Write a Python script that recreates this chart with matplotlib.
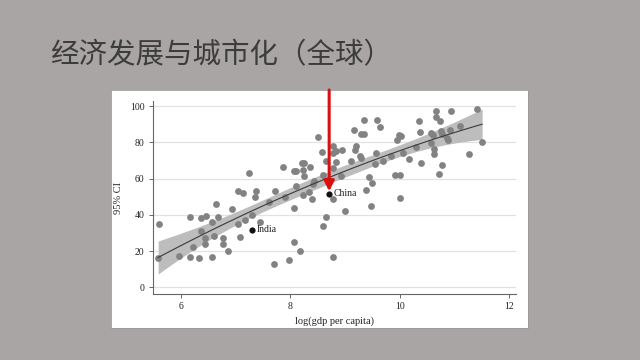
import numpy as np
import matplotlib
matplotlib.use("Agg")
import matplotlib.pyplot as plt

# log gdp per capita / urbanisation rate
log_gdp = [5.60, 5.58, 5.96, 6.16, 6.16, 6.32, 6.22, 6.36, 6.46, 6.36, 6.43, 6.44, 6.56, 6.63,
           6.67, 6.61, 6.57, 6.77, 6.76, 6.85, 6.94, 7.05, 7.13, 7.25, 7.05, 7.08, 7.17, 7.38,
           7.35, 7.29, 7.44, 7.72, 7.61, 7.70, 7.86, 7.97, 7.90,
           8.06, 8.18, 8.07, 8.21, 8.25, 8.06, 8.11, 8.36, 8.24, 8.25, 8.59, 8.65, 8.11, 8.41,
           8.35, 8.24, 8.40, 8.44, 8.51, 8.57, 8.78, 8.83, 8.78, 8.95, 8.83, 8.78, 8.92, 9.11,
           9.21, 9.18, 9.27, 9.30, 9.17, 9.29, 9.34, 9.35, 8.78, 8.78, 8.65, 8.60, 9.00, 9.38,
           9.44, 9.49, 9.47,
           9.58, 9.64, 9.57, 9.55, 9.70, 9.84, 9.95, 9.99, 10.03, 9.91, 10.00, 10.00, 10.07,
           10.18, 10.30, 10.35, 10.37, 10.40, 10.58, 10.61, 10.57, 10.63, 10.63, 10.67, 10.66,
           10.73, 10.75, 10.78, 10.86, 10.89, 10.92, 10.94, 11.10, 11.41, 11.51, 11.27, 10.77,
           10.72]
urban = [35, 16, 17.5, 39, 17, 16, 22, 38.5, 39.5, 31, 27, 24, 36, 46,
         39, 28.5, 16.5, 27, 24, 20, 43, 53, 52, 63, 35, 28, 37, 53,
         50, 40, 36, 53, 47, 13, 66.5, 15, 50,
         25, 20, 44, 68.8, 68.8, 64, 64, 66.6, 64.8, 61.7, 62, 69.9, 56, 57,
         52.8, 51, 49, 58.7, 83, 74.7, 78, 75.5, 74.2, 75.7, 69.2, 66, 61.7, 69.6,
         78, 75.7, 72.4, 71.4, 86.7, 84.7, 84.7, 92.6, 49, 17, 38.7, 34, 42, 53.8,
         60.8, 57.6, 45,
         92.6, 88.6, 74.2, 68, 69.8, 72.4, 81.5, 84.3, 83.4, 62, 62, 49.3, 74,
         70.9, 77.7, 91.7, 85.8, 68.7, 85.4, 84.3, 79.6, 76.4, 73.8, 97.6, 93.9,
         91.7, 86.5, 84.7, 82.5, 81.5, 87.1, 97.6, 88.9, 98.7, 80.1, 73.8, 67.7,
         62.8]

labelled = ["China", "India"]
labelled_x = [8.71, 7.30]
labelled_y = [51.7, 31.7]

x = np.array(log_gdp + labelled_x)
y = np.array(urban + labelled_y)

# quadratic fit with 95% CI of the mean (like Stata qfitci)
X = np.column_stack([np.ones_like(x), x, x ** 2])
beta, *_ = np.linalg.lstsq(X, y, rcond=None)
n = len(x)
resid = y - X @ beta
s2 = np.sum(resid ** 2) / (n - 3)
cov = s2 * np.linalg.inv(X.T @ X)
xs = np.linspace(x.min(), x.max(), 100)
Xs = np.column_stack([np.ones_like(xs), xs, xs ** 2])
fit = Xs @ beta
se = np.sqrt(np.einsum("ij,jk,ik->i", Xs, cov, Xs))
t = 1.98

fig = plt.figure(figsize=(6.4, 3.6), dpi=100)
fig.patch.set_facecolor("#aaa5a5")
# white box of the pasted chart
bg = fig.add_axes([111 / 640, 1 - 328 / 360, 417 / 640, 238 / 360], zorder=-5)
bg.set_facecolor("white")
bg.set_xticks([])
bg.set_yticks([])
for sp in bg.spines.values():
    sp.set_color("#9a9a9a")
    sp.set_linewidth(0.6)

fig.text(50 / 640, 1 - 55 / 360, "经济发展与城市化（全球）", fontsize=20.5,
         family=["Noto Sans CJK SC", "DejaVu Sans"], color="#3c3c3c", va="center")

ax = fig.add_axes([152.7 / 640, 1 - 294 / 360, (516 - 152.7) / 640, (294 - 101) / 360])
ax.patch.set_alpha(0)
ax.set_xlim(5.48, 12.13)
ax.set_ylim(-3.7, 102.9)

ax.fill_between(xs, fit - t * se, fit + t * se, color="#bdbdbd", lw=0, zorder=2)
ax.scatter(log_gdp, urban, s=24, color="#828282", lw=0, zorder=3)
ax.plot(xs, fit, color="#3a3a3a", lw=0.8, zorder=4)
ax.scatter(labelled_x, labelled_y, s=20, color="#111111", lw=0, zorder=5)
for name, px, py in zip(labelled, labelled_x, labelled_y):
    ax.text(px + 0.08, py, name, fontsize=7, family="Liberation Serif",
            va="center", ha="left", color="#222222", zorder=6)

ax.annotate("", xy=(labelled_x[0], 53.0), xytext=(labelled_x[0], 109),
            arrowprops=dict(arrowstyle="-|>,head_width=0.3,head_length=0.6",
                            color="#d81010", lw=2.2, shrinkA=0, shrinkB=0),
            annotation_clip=False, zorder=7)

ax.set_yticks([0, 20, 40, 60, 80, 100])
ax.set_xticks([6, 8, 10, 12])
ax.yaxis.grid(True, color="#e2e2e2", lw=0.9)
ax.set_axisbelow(True)
for side in ["top", "right"]:
    ax.spines[side].set_visible(False)
for side in ["left", "bottom"]:
    ax.spines[side].set_color("#666666")
    ax.spines[side].set_linewidth(0.8)
ax.tick_params(length=3, width=0.7, color="#666666", labelsize=7, labelcolor="#222222", pad=3)
for lab in ax.get_xticklabels() + ax.get_yticklabels():
    lab.set_family("Liberation Serif")
ax.set_xlabel("log(gdp per capita)", fontsize=7.5, family="Liberation Serif", color="#222222", labelpad=4)
ax.set_ylabel("95% CI", fontsize=7.5, family="Liberation Serif", color="#222222", labelpad=5)

fig.savefig("out.png", dpi=100, facecolor=fig.get_facecolor())
